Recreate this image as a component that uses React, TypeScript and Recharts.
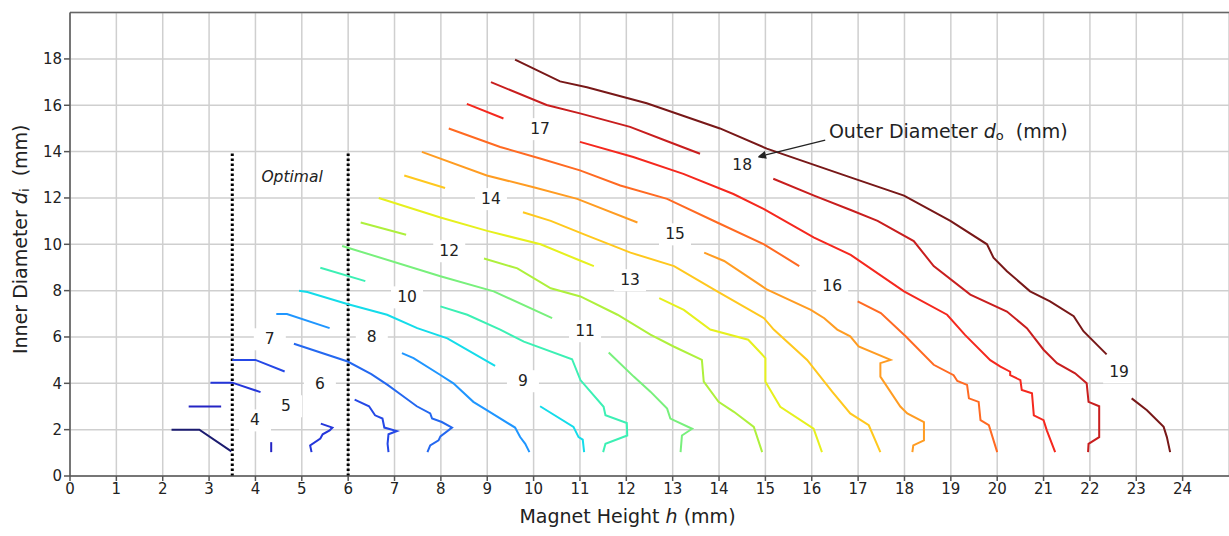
import { LineChart, Line, XAxis, YAxis, CartesianGrid, ReferenceLine, ReferenceDot, Label } from 'recharts';

type Pt = [number, number];

const xTicks = [0, 1, 2, 3, 4, 5, 6, 7, 8, 9, 10, 11, 12, 13, 14, 15, 16, 17, 18, 19, 20, 21, 22, 23, 24];
const yTicks = [0, 2, 4, 6, 8, 10, 12, 14, 16, 18];

// contour lines of outer diameter, points are [h, di] in mm
const c3: Pt[] = [[2.19, 2.0], [2.79, 2.0], [3.48, 1.06]];
const c4a: Pt[] = [[2.56, 3.0], [3.26, 3.0]];
const c4b: Pt[] = [[4.34, 1.46], [4.34, 1.03]];
const c5a: Pt[] = [[3.03, 4.03], [3.5, 4.03], [4.11, 3.62]];
const c5b: Pt[] = [[5.41, 2.26], [5.66, 2.09], [5.6, 1.97], [5.45, 1.8], [5.4, 1.62], [5.18, 1.32], [5.21, 1.03]];
const c6a: Pt[] = [[3.5, 5.01], [4.0, 5.01], [4.63, 4.51]];
const c6b: Pt[] = [[6.14, 3.3], [6.45, 3.01], [6.58, 2.62], [6.74, 2.48], [6.78, 2.09], [7.05, 1.94], [6.87, 1.8], [6.85, 1.39], [6.87, 1.03]];
const c7b: Pt[] = [[4.83, 5.71], [5.99, 4.94], [6.5, 4.4], [6.85, 3.93], [7.12, 3.54], [7.48, 3.01], [7.77, 2.7], [7.81, 2.48], [8.02, 2.33], [8.24, 2.09], [7.99, 1.71], [7.95, 1.54], [7.77, 1.32], [7.71, 1.03]];
const c8a: Pt[] = [[4.45, 6.99], [4.68, 6.99], [5.6, 6.38]];
const c8b: Pt[] = [[7.16, 5.3], [7.41, 5.09], [7.99, 4.36], [8.27, 4.0], [8.7, 3.2], [8.99, 2.84], [9.6, 2.09], [9.71, 1.68], [9.82, 1.39], [9.91, 1.03]];
const c9a: Pt[] = [[4.94, 8.0], [5.12, 7.94], [5.98, 7.42], [6.84, 6.96], [7.49, 6.38], [8.14, 5.94], [9.17, 4.75]];
const c9b: Pt[] = [[10.14, 3.01], [10.86, 2.12], [10.97, 1.68], [11.06, 1.57], [11.09, 1.03]];
const c10a: Pt[] = [[5.4, 8.99], [6.37, 8.41]];
const c10b: Pt[] = [[7.99, 7.32], [8.57, 6.96], [9.28, 6.32], [9.79, 5.8], [10.83, 5.04], [11.01, 4.14], [11.51, 2.99], [11.55, 2.62], [12.01, 2.29], [12.02, 1.75], [11.55, 1.39], [11.5, 1.03]];
const c11a: Pt[] = [[5.87, 9.93], [7.99, 8.62], [9.14, 7.97], [10.4, 6.81]];
const c11b: Pt[] = [[11.62, 5.33], [12.16, 4.29], [12.52, 3.64], [12.88, 2.91], [12.95, 2.48], [13.42, 2.04], [13.2, 1.75], [13.17, 1.03]];
const c12a: Pt[] = [[6.27, 10.94], [7.25, 10.41]];
const c12b: Pt[] = [[8.93, 9.39], [9.65, 8.96], [10.37, 8.1], [11.01, 7.75], [11.81, 6.96], [12.52, 6.1], [13.02, 5.59], [13.63, 5.01], [13.67, 4.07], [13.99, 3.2], [14.32, 2.77], [14.75, 2.12], [14.93, 1.03]];
const c13a: Pt[] = [[6.66, 12.0], [7.99, 11.16], [9.0, 10.58], [10.15, 10.0], [11.0, 9.3], [11.3, 9.06]];
const c13b: Pt[] = [[12.71, 7.68], [13.24, 7.17], [13.81, 6.32], [14.63, 5.88], [15.0, 5.09], [15.0, 4.07], [15.32, 2.99], [16.04, 2.04], [16.22, 1.03]];
const c14a: Pt[] = [[7.21, 12.97], [8.09, 12.43]];
const c14b: Pt[] = [[9.77, 11.38], [10.37, 11.01], [11.09, 10.43], [12.09, 9.64], [13.03, 9.06], [13.96, 7.97], [14.97, 6.81], [15.18, 6.32], [15.9, 5.01], [16.44, 3.64], [16.83, 2.7], [17.23, 2.19], [17.48, 1.03]];
const c15a: Pt[] = [[7.59, 13.99], [8.99, 12.97], [10.0, 12.46], [10.94, 11.96], [12.24, 10.94]];
const c15b: Pt[] = [[13.68, 9.64], [14.11, 9.28], [15.04, 8.04], [15.98, 7.17], [16.27, 6.81], [16.55, 6.32], [16.83, 6.03], [17.01, 5.59], [17.7, 5.01], [17.48, 4.87], [17.48, 4.29], [17.91, 3.0], [18.06, 2.7], [18.42, 2.33], [18.42, 1.54], [18.19, 1.32], [18.17, 1.03]];
const c16a: Pt[] = [[8.17, 15.0], [9.28, 14.2], [10.14, 13.7], [11.0, 13.19], [11.87, 12.54], [12.88, 11.96], [13.96, 10.94], [14.97, 10.0], [15.73, 9.06]];
const c16b: Pt[] = [[16.99, 7.54], [17.49, 7.03], [18.03, 6.02], [18.63, 4.8], [19.06, 4.35], [19.14, 4.1], [19.35, 3.93], [19.39, 3.35], [19.6, 3.2], [19.64, 2.41], [19.82, 2.19], [20.0, 1.03]];
const c17a: Pt[] = [[8.56, 16.06], [9.35, 15.43]];
const c17b: Pt[] = [[11.0, 14.42], [12.15, 13.77], [13.23, 13.04], [14.31, 12.17], [14.97, 11.52], [16.05, 10.29], [16.84, 9.54], [17.99, 7.97], [18.92, 6.96], [19.3, 6.1], [19.85, 5.0], [20.07, 4.72], [20.28, 4.5], [20.28, 4.35], [20.5, 4.14], [20.53, 3.71], [20.75, 3.57], [20.79, 2.62], [21.0, 2.41], [21.07, 1.97], [21.25, 1.03]];
const c18a: Pt[] = [[9.08, 17.0], [10.28, 16.01], [11.0, 15.65], [12.08, 15.07], [12.87, 14.46], [13.59, 13.91]];
const c18b: Pt[] = [[15.17, 12.83], [16.05, 12.1], [16.84, 11.48], [17.42, 11.01], [18.2, 10.14], [18.63, 9.06], [19.42, 7.83], [20.21, 7.1], [20.64, 6.38], [21.0, 5.45], [21.29, 4.87], [21.68, 4.43], [21.93, 4.0], [21.97, 3.2], [22.2, 3.01], [22.2, 1.68], [21.97, 1.39], [21.96, 1.03]];
const c19a: Pt[] = [[9.6, 17.97], [10.57, 17.03], [11.15, 16.78], [12.44, 16.09], [14.02, 15.0], [15.03, 14.13], [16.82, 12.9], [17.99, 12.1], [18.99, 11.01], [19.78, 10.0], [19.92, 9.42], [20.21, 8.84], [20.71, 7.97], [21.14, 7.54], [21.65, 6.9], [21.86, 6.25], [22.36, 5.25]];
const c19b: Pt[] = [[22.9, 3.35], [23.23, 2.84], [23.59, 2.12], [23.66, 1.68], [23.73, 1.03]];

const levelColors: Record<number, string> = {
  3: '#1b1b70', 4: '#2424c4', 5: '#2436da', 6: '#2548e6', 7: '#2468f0', 8: '#1f96ff',
  9: '#14dcea', 10: '#3cf0b4', 11: '#78f07c', 12: '#aef03c', 13: '#e6f01e', 14: '#ffc81e',
  15: '#ff9c22', 16: '#ff6a22', 17: '#f5281e', 18: '#c81e1e', 19: '#781818',
};

const segments: Array<{ id: string; level: number; pts: Pt[] }> = [
  { id: 'c3', level: 3, pts: c3 },
  { id: 'c4a', level: 4, pts: c4a }, { id: 'c4b', level: 4, pts: c4b },
  { id: 'c5a', level: 5, pts: c5a }, { id: 'c5b', level: 5, pts: c5b },
  { id: 'c6a', level: 6, pts: c6a }, { id: 'c6b', level: 6, pts: c6b },
  { id: 'c7b', level: 7, pts: c7b },
  { id: 'c8a', level: 8, pts: c8a }, { id: 'c8b', level: 8, pts: c8b },
  { id: 'c9a', level: 9, pts: c9a }, { id: 'c9b', level: 9, pts: c9b },
  { id: 'c10a', level: 10, pts: c10a }, { id: 'c10b', level: 10, pts: c10b },
  { id: 'c11a', level: 11, pts: c11a }, { id: 'c11b', level: 11, pts: c11b },
  { id: 'c12a', level: 12, pts: c12a }, { id: 'c12b', level: 12, pts: c12b },
  { id: 'c13a', level: 13, pts: c13a }, { id: 'c13b', level: 13, pts: c13b },
  { id: 'c14a', level: 14, pts: c14a }, { id: 'c14b', level: 14, pts: c14b },
  { id: 'c15a', level: 15, pts: c15a }, { id: 'c15b', level: 15, pts: c15b },
  { id: 'c16a', level: 16, pts: c16a }, { id: 'c16b', level: 16, pts: c16b },
  { id: 'c17a', level: 17, pts: c17a }, { id: 'c17b', level: 17, pts: c17b },
  { id: 'c18a', level: 18, pts: c18a }, { id: 'c18b', level: 18, pts: c18b },
  { id: 'c19a', level: 19, pts: c19a }, { id: 'c19b', level: 19, pts: c19b },
];

// where each contour value is written
const labelLevels = [4, 5, 6, 7, 8, 9, 10, 11, 12, 13, 14, 15, 16, 17, 18, 19];
const labelH = [3.99, 4.66, 5.39, 4.31, 6.51, 9.77, 7.27, 11.11, 8.18, 12.08, 9.08, 13.05, 16.44, 10.14, 14.5, 22.63];
const labelD = [2.4, 3.01, 3.96, 5.9, 5.99, 4.09, 7.71, 6.25, 9.7, 8.45, 11.95, 10.43, 8.19, 14.97, 13.41, 4.47];

const optimalBounds = [3.5, 6];
const optimalTop = 14;

const FONT = '"DejaVu Sans", Verdana, sans-serif';

const ContourTag = ({ cx, cy, text }: { cx: number; cy: number; text: string }) => (
  <g>
    <rect x={cx - 16} y={cy - 11} width={32} height={22} fill="#fff" />
    <text x={cx} y={cy} textAnchor="middle" dominantBaseline="central" fontSize={15.5} fill="#222" fontFamily={FONT}>
      {text}
    </text>
  </g>
);

const XTitle = (props: any) => {
  const vb = props.viewBox;
  return (
    <text x={vb.x + vb.width / 2 - 22} y={vb.y + 47} textAnchor="middle" fontSize={19} fill="#222" fontFamily={FONT}>
      Magnet Height <tspan fontStyle="italic">h</tspan> (mm)
    </text>
  );
};

const YTitle = (props: any) => {
  const vb = props.viewBox;
  const cx = 20;
  const cy = vb.y + vb.height / 2 - 5;
  return (
    <text x={cx} y={cy} transform={`rotate(-90 ${cx} ${cy})`} textAnchor="middle" dominantBaseline="central" fontSize={19} fill="#222" fontFamily={FONT}>
      Inner Diameter <tspan fontStyle="italic">d</tspan>
      <tspan fontSize={13} dy={4}>i</tspan>
      <tspan dy={-4}>{'\u00a0\u00a0(mm)'}</tspan>
    </text>
  );
};

const Arrow = (p: any) => {
  const { x1, y1, x2, y2 } = p;
  const a = Math.atan2(y2 - y1, x2 - x1);
  const len = 9;
  const w = 4;
  const bx = x2 - len * Math.cos(a);
  const by = y2 - len * Math.sin(a);
  const px = -Math.sin(a) * w;
  const py = Math.cos(a) * w;
  return (
    <g>
      <line x1={x1} y1={y1} x2={bx} y2={by} stroke="#222" strokeWidth={1.3} />
      <polygon points={`${x2},${y2} ${bx + px},${by + py} ${bx - px},${by - py}`} fill="#222" />
    </g>
  );
};

const AnnotText = (p: any) => (
  <text x={p.cx} y={p.cy} dominantBaseline="central" fontSize={19} fill="#222" fontFamily={FONT}>
    Outer Diameter <tspan fontStyle="italic">d</tspan>
    <tspan fontSize={13} dy={4}>o</tspan>
    <tspan dy={-4}>{'\u00a0\u00a0(mm)'}</tspan>
  </text>
);

const OptimalText = (p: any) => (
  <text x={p.cx} y={p.cy} textAnchor="middle" dominantBaseline="central" fontSize={15.5} fontStyle="italic" fill="#222" fontFamily={FONT}>
    Optimal
  </text>
);

export default function App() {
  return (
    <div style={{ position: 'absolute', left: 0, top: 0, width: 1229, height: 536, background: '#fff' }}>
      <LineChart width={1229} height={536} margin={{ top: 12.6, right: 0, bottom: 0, left: 0 }}>
        <CartesianGrid stroke="#cfcfcf" strokeWidth={1.5} />
        <XAxis
          type="number"
          dataKey="h"
          domain={[0, 25]}
          ticks={xTicks}
          interval={0}
          height={60}
          stroke="#555"
          strokeWidth={1.5}
          tickSize={5}
          tick={{ fill: '#222', fontSize: 15, fontFamily: FONT }}
          allowDataOverflow
        >
          <Label content={XTitle} />
        </XAxis>
        <YAxis
          type="number"
          dataKey="d"
          domain={[0, 20]}
          ticks={yTicks}
          interval={0}
          width={70}
          stroke="#555"
          strokeWidth={1.5}
          tickSize={6}
          tick={{ fill: '#222', fontSize: 15, fontFamily: FONT }}
          allowDataOverflow
        >
          <Label content={YTitle} />
        </YAxis>
        <ReferenceLine y={20} stroke="#666" strokeWidth={1.5} />
        {optimalBounds.map((h) => (
          <ReferenceLine
            key={h}
            segment={[{ x: h, y: 0 }, { x: h, y: optimalTop }]}
            stroke="#000"
            strokeWidth={3}
            strokeDasharray="2.5 2.5"
          />
        ))}
        {labelLevels.map((lv, i) => (
          <ReferenceDot
            key={`lab${lv}`}
            x={labelH[i]}
            y={labelD[i]}
            r={0}
            shape={(p: any) => <ContourTag cx={p.cx} cy={p.cy} text={String(lv)} />}
          />
        ))}
        {segments.map((s) => (
          <Line
            key={s.id}
            data={s.pts.map(([h, d]) => ({ h, d }))}
            dataKey="d"
            type="linear"
            stroke={levelColors[s.level]}
            strokeWidth={2}
            dot={false}
            activeDot={false}
            isAnimationActive={false}
          />
        ))}
        <ReferenceDot x={4.79} y={12.9} r={0} shape={OptimalText} />
        <ReferenceLine segment={[{ x: 16.29, y: 14.5 }, { x: 14.82, y: 13.76 }]} shape={Arrow} />
        <ReferenceDot x={16.37} y={14.88} r={0} shape={AnnotText} />
      </LineChart>
    </div>
  );
}
